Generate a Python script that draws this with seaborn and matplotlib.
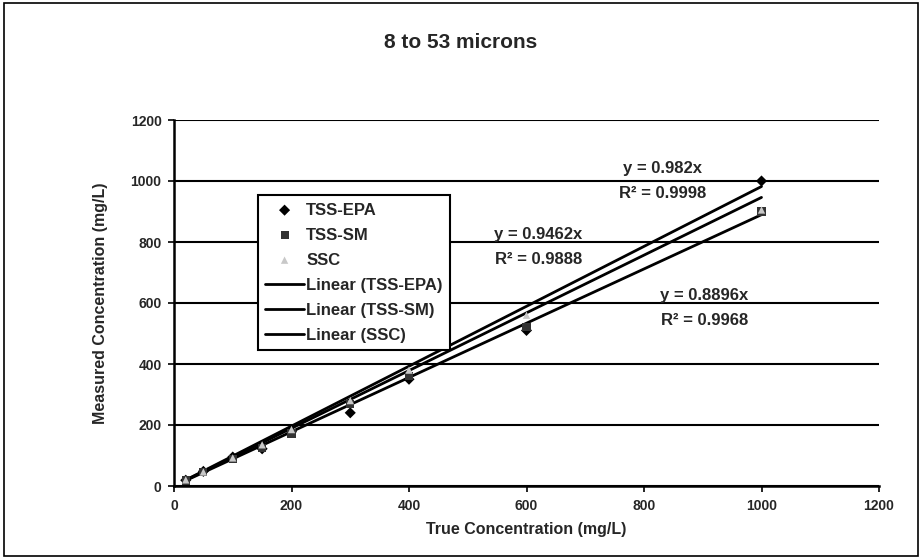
import numpy as np
import matplotlib
matplotlib.use("Agg")
import matplotlib.pyplot as plt
import pandas as pd
import seaborn as sns

# data
true_conc = [20, 50, 100, 150, 200, 300, 400, 600, 1000]
tss_epa = [19, 48, 95, 122, 178, 240, 350, 510, 1000]
tss_sm = [18, 45, 90, 125, 172, 270, 360, 520, 900]
ssc = [20, 46, 92, 135, 185, 280, 380, 560, 905]

series_names = ["TSS-EPA", "TSS-SM", "SSC"]
slopes = [0.982, 0.9462, 0.8896]
r2_values = [0.9998, 0.9888, 0.9968]
label_pos = [(832, 1040), (620, 825), (903, 623)]

sns.set_theme(style="white")
plt.rcParams["font.family"] = ["Liberation Sans", "DejaVu Sans"]
plt.rcParams["font.weight"] = "bold"

df = pd.DataFrame({
    "true": true_conc * 3,
    "measured": tss_epa + tss_sm + ssc,
    "series": [s for s in series_names for _ in true_conc],
})

fig = plt.figure(figsize=(9.22, 5.59), dpi=100)
ax = fig.add_axes([174 / 922, 1 - 486 / 559, 705 / 922, 366 / 559])

markers = {"TSS-EPA": "D", "TSS-SM": "s", "SSC": "^"}
colors = {"TSS-EPA": "#000000", "TSS-SM": "#333333", "SSC": "#c8c8c8"}
sizes = {"TSS-EPA": 32, "TSS-SM": 34, "SSC": 28}
for name in series_names:
    sub = df[df["series"] == name]
    sns.scatterplot(data=sub, x="true", y="measured", marker=markers[name],
                    color=colors[name], s=sizes[name], edgecolor="none",
                    ax=ax, label=name, zorder=4)

# linear trendlines through the origin
for name, k in zip(series_names, slopes):
    xs = np.array([min(true_conc), max(true_conc)])
    sns.lineplot(x=xs, y=k * xs, color="black", lw=2.0, ax=ax,
                 label=f"Linear ({name})", zorder=3)

for k, r2, (tx, ty) in zip(slopes, r2_values, label_pos):
    ax.text(tx, ty, f"y = {k:g}x", ha="center", va="center", fontsize=12,
            fontweight="bold")
    ax.text(tx, ty - 82, f"R² = {r2:.4f}", ha="center", va="center",
            fontsize=12, fontweight="bold")

ax.set_xlim(0, 1200)
ax.set_ylim(0, 1200)
ax.set_xticks(range(0, 1201, 200))
ax.set_yticks(range(0, 1201, 200))
ax.yaxis.grid(True, color="black", lw=1.5)
ax.set_axisbelow(True)
for side in ["top", "right"]:
    ax.spines[side].set_visible(False)
for side in ["left", "bottom"]:
    ax.spines[side].set_color("black")
    ax.spines[side].set_linewidth(1.8)
ax.tick_params(axis="both", length=4, width=1.2, color="black",
               labelsize=10, direction="out", bottom=True, left=True, pad=5)
for lab in ax.get_xticklabels() + ax.get_yticklabels():
    lab.set_fontweight("bold")

ax.set_xlabel("True Concentration (mg/L)", fontsize=11.5, fontweight="bold",
              labelpad=7)
ax.set_ylabel("Measured Concentration (mg/L)", fontsize=11.5,
              fontweight="bold", labelpad=16)

fig.suptitle("8 to 53 microns", y=1 - 42 / 559, fontsize=15,
             fontweight="bold", va="center")

leg = ax.legend(loc="upper left", bbox_to_anchor=(0.119, 0.795),
                frameon=True, fontsize=12, handlelength=2.3,
                handletextpad=0.15, borderpad=0.45, labelspacing=0.6,
                borderaxespad=0, fancybox=False, edgecolor="black",
                framealpha=1)
leg.get_frame().set_linewidth(1.5)
for t in leg.get_texts():
    t.set_fontweight("bold")

fig.patches.append(plt.Rectangle((0.004, 0.006), 0.992, 0.988,
                                 transform=fig.transFigure, fill=False,
                                 edgecolor="black", lw=1.2))

fig.savefig("out.png", dpi=100)
